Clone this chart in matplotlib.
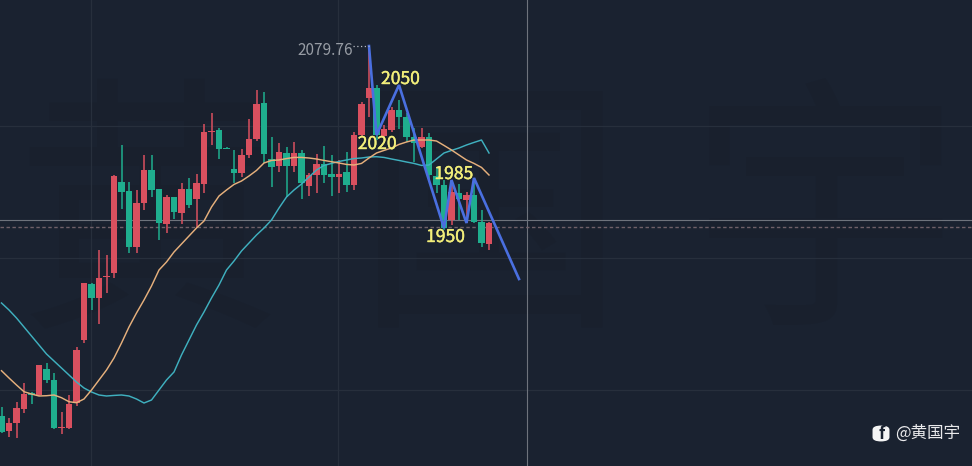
import numpy as np
import matplotlib
matplotlib.use("Agg")
import matplotlib.pyplot as plt
import matplotlib.patheffects as pe
from matplotlib.patches import FancyBboxPatch

plt.rcParams['font.family'] = ['Noto Sans CJK SC', 'DejaVu Sans']

highs = [1827.3,1819.4,1830.8,1844.1,1837.8,1856.5,1858.1,1850.9,1823.8,1835.5,1869.3,1914.1,1913.9,1937,1933.5,1989.5,
         2010.5,1984.8,1979,2003.5,2003.5,1979.7,1975.5,1974.3,1984.1,1987.6,1990.2,2025.2,2032.9,2022.4,2009.3,2007,
         2007.5,2028.5,2049,2047.8,2015.9,2012.1,2009.1,2012.8,2007,1991.1,2004.2,2009.8,2003.5,2000,2005.8,2019.8,
         2040.8,2079.76,2052.5,2024.5,2037.3,2042,2032.9,2022.4,2022.4,2019.1,1995.3,1986,1982.5,1983.2,1977.8,1987.4,1965,1956.8]
body_top = [1821,1816.1,1826.6,1836.2,1836.9,1856.5,1853.7,1846,1813.3,1829.2,1867,1913.9,1913.2,1917.6,1918.8,1989,
            1984.8,1978.5,1970.1,1993,1993,1979.5,1973.9,1973.9,1979.5,1979.5,1984.1,2019.8,2020.5,2021,2008.4,1993.5,
            2003.5,2014.5,2039.2,2040.1,2000.5,2005.8,2005.1,2005.1,2005.1,1989.5,1997.2,1997.2,1990.2,1990.2,1991.8,2017.5,
            2039.2,2050.2,2050.2,2021.5,2035,2035,2029.9,2015.9,2016.3,2016.3,1988.8,1982.5,1977.8,1977.1,1975.5,1975.5,1956.8,1955.7]
body_bottom = [1809.8,1810.5,1816.1,1825.7,1835.5,1835.5,1846,1812.4,1812.6,1812.4,1830.1,1874,1903.6,1903.6,1918.1,1921.1,
               1977.8,1939.3,1939.3,1970.1,1979,1956.1,1955.2,1963.8,1963.1,1968.5,1972.7,1983.2,2019.8,2007.7,2007.9,1991.1,
               1990.7,2003.3,2014.5,2004.2,1995.3,1995.8,1995.8,1995.8,1983.7,1981.8,1989.5,1989.5,1987.9,1988.3,1982.5,1982.5,
               2017.5,2043.6,2017.5,2016.8,2021,2030.3,2015.9,2011.7,2009.3,1989.5,1982.5,1952.2,1958,1972.5,1972,1956.8,1941.7,1941.2]
lows = [1808.9,1806.3,1805.4,1822.9,1829.2,1834.8,1844.1,1811.7,1808.2,1811.7,1827.8,1871.9,1895,1885.2,1907.1,1917.4,
        1965.7,1935.1,1934.9,1965,1974.3,1944,1949.1,1958.5,1955.2,1966.6,1952.4,1976.9,2010.5,2000.7,2007.5,1983.9,
        1988.3,2001.2,2013.5,1997.7,1981.3,1991.8,1974.3,1991.8,1972.5,1974.8,1976.7,1983.9,1974.8,1976.9,1977.4,1979,
        2016.3,2029.9,2014,2015.4,2019.8,2021.5,2012.8,1998.8,2008.2,1986,1976.9,1951,1954.5,1958,1955.9,1955.9,1939.1,1937]
candle_dir = list("GRRRGRGGRRRRGRRRGGRRGGRGRGRRRGGGRRRGGRGRGRRGGRGRRRGRRGGGRGGGRGRGGR")

ma_orange = [1852.5,1847.4,1842.5,1837.8,1836.2,1834.8,1835,1835.5,1833.6,1830.8,1830.1,1832.7,1839,1846,1853,1861.4,
             1871.9,1883.1,1892.9,1902,1911.8,1923,1928.6,1935.6,1941.2,1946.8,1952.4,1957.3,1967.1,1974.8,1979,1982.9,
             1985.3,1988.8,1992.7,1997.9,1999.7,2000,2001,2001.8,2001.8,2001.4,2000.7,1999.7,1998.8,1997.9,1996.9,1996.5,
             1997.6,2001.4,2004.9,2006.7,2008.4,2010.9,2012.6,2014,2014,2014,2013.3,2010.2,2007,2003.5,2000,1997.6,1994.8,1989.5]
ma_blue = [1899.9,1895,1889.4,1883.1,1876.8,1870.5,1864.2,1859.3,1854.4,1849.5,1844.6,1840.4,1837.6,1835.5,1834.8,1835.2,
           1835.5,1834.8,1832.7,1829.9,1832,1839,1846,1851.6,1863.5,1874,1884.5,1893.6,1903.4,1912.5,1923,1929.3,
           1936.3,1941.9,1947.5,1952.4,1958,1966.4,1974.1,1979,1983.2,1988.1,1993,1996.2,1997.6,1999,2000,2001,
           2001.4,2002.1,2002.3,2001.8,2000.7,1999.7,1998.6,1997.6,1996.2,1996.5,2000.7,2004.9,2006.7,2008.4,2010.5,2012.3,2014,2004.9]

wave_idx = [49,50,53,59,60,62,63,69]
wave_price = [2079.76,2017.5,2052.5,1952.4,1986,1955.9,1987.4,1916.7]

level_labels = ["2050","2020","1985","1950"]
level_x = [53.2,50.1,60.3,59.2]
level_y = [2056.7,2011.2,1990.2,1946.1]

watermark_chars = ["黄","国","宇"]
watermark_x = [150/972,490/972,825/972]

BG = "#1a2230"
RED = "#d9505f"
GREEN = "#1fae8e"

fig = plt.figure(figsize=(9.72,4.66), dpi=100, facecolor=BG)
ax = fig.add_axes([0,0,1,1], facecolor=BG)
ax.set_xlim(-0.2,129.4)
ax.set_ylim(1785.8,2112)
ax.axis("off")

for ch,x in zip(watermark_chars,watermark_x):
    ax.text(x,0.51,ch,transform=ax.transAxes,color="#19202d",fontsize=195,ha="center",va="center",zorder=0.5)

for p in [2023.8,1931.4,1839]:
    ax.axhline(p,color="#272f3c",lw=0.9,zorder=1)
for i in [11.93,44.87]:
    ax.axvline(i,color="#272f3c",lw=0.9,zorder=1)
ax.axhline(1958,color="#6e737c",lw=0.8,zorder=1.5)
ax.axvline(70.1,color="#6e737c",lw=0.8,zorder=1.5)
ax.axhline(1953.3,color="#6f6068",lw=1.0,ls=(0,(2.5,1.8)),zorder=1.5)

xs = np.arange(len(highs))
cols = [RED if c=="R" else GREEN for c in candle_dir]
ax.vlines(xs,lows,highs,colors=cols,lw=1.1,zorder=2)
bt = np.array(body_top); bb = np.array(body_bottom)
ax.bar(xs,bt-bb,bottom=bb,width=0.84,color=cols,lw=0,zorder=2.5)

ax.plot(xs,ma_blue,color="#3fb0bf",lw=1.05,zorder=3)
ax.plot(xs,ma_orange,color="#e6b07c",lw=1.05,zorder=3.1)
ax.plot(wave_idx,wave_price,color="#4a6fe0",lw=1.9,zorder=4,solid_joinstyle="miter")

ax.plot([46.9,49],[2079.76,2079.76],color="#b8bcc4",lw=0.9,ls=(0,(1,2)),zorder=4)
ax.text(46.9,2076.4,"2079.76",color="#979ca4",fontsize=11.1,ha="right",va="center",zorder=5)

for t,x,y in zip(level_labels,level_x,level_y):
    ax.text(x,y,t,color="#f2ee7a",fontsize=12.6,ha="center",va="center",zorder=5,
            path_effects=[pe.withStroke(linewidth=0.3,foreground="#f2ee7a")])

ax.add_patch(FancyBboxPatch((873.5/972,1-441/466),15/972,15/466,boxstyle="round,pad=0.001,rounding_size=0.009",
                            transform=ax.transAxes,fc="#f4f4f4",ec="none",zorder=5))
ax.text(882/972,1-434/466,"f",transform=ax.transAxes,color=BG,fontsize=12,fontweight="bold",
        ha="center",va="center",zorder=6)
ax.text(895/972,1-433/466,"@黄国宇",transform=ax.transAxes,color="#e9e9eb",fontsize=11.9,ha="left",va="center",zorder=6)

fig.savefig("out.png",dpi=100,facecolor=BG)
